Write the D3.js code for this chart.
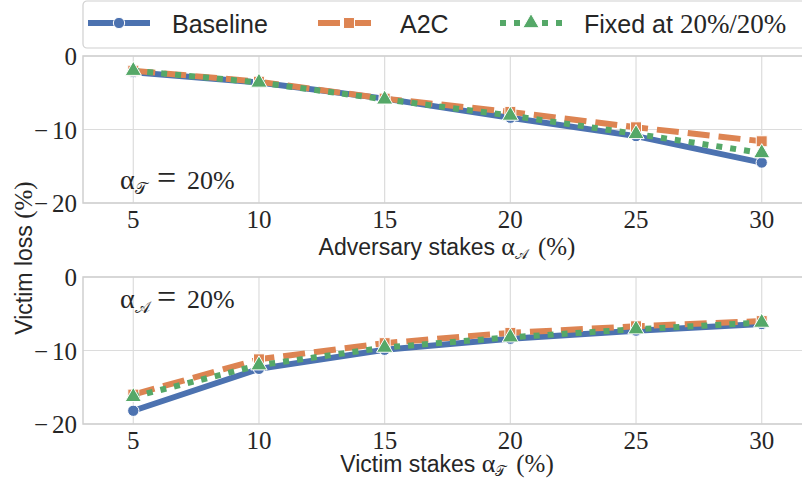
<!DOCTYPE html>
<html>
<head>
<meta charset="utf-8">
<script src="https://cdn.jsdelivr.net/npm/d3@7"></script>
<style>
  body { margin: 0; background: #fff; }
  svg { display: block; }
</style>
</head>
<body>
<script>
// data
var stakes = [5, 10, 15, 20, 25, 30];
var xTicks = [5, 10, 15, 20, 25, 30];
var yTicks = [0, -10, -20];

// top panel: adversary stakes varies, victim stakes fixed at 20%
var advBaseline = [-2.2, -3.6, -5.8, -8.4, -10.9, -14.5];
var advA2C      = [-2.0, -3.5, -5.8, -7.6, -9.7, -11.6];
var advFixed    = [-2.0, -3.6, -5.9, -8.1, -10.6, -13.2];

// bottom panel: victim stakes varies, adversary stakes fixed at 20%
var vicBaseline = [-18.2, -12.5, -9.9, -8.4, -7.3, -6.4];
var vicA2C      = [-16.0, -11.2, -9.0, -7.6, -6.7, -6.0];
var vicFixed    = [-16.3, -12.0, -9.6, -8.2, -7.1, -6.2];

var seriesNames = ['Baseline', 'A2C', 'Fixed at 20%/20%'];

var W = 802, H = 480;
var blue = '#4C72B0', orange = '#DD8452', green = '#55A868';
var serif = 'Liberation Serif';
var sans = 'Liberation Sans';
var ink = '#262626';
var scriptA = '\ud835\udc9c', scriptT = '\ud835\udcaf';

var svg = d3.select('body').append('svg')
  .attr('width', W).attr('height', H);

var xScale = d3.scaleLinear().domain([3, 32]).range([83, 812]);

var styles = [
  {color: blue, dash: null, marker: 'circle'},
  {color: orange, dash: '22,9', marker: 'square'},
  {color: green, dash: '6,8', marker: 'triangle'}
];

function drawMarker(g, type, x, y, color) {
  var sym;
  if (type == 'circle') sym = d3.symbol().type(d3.symbolCircle).size(100);
  else if (type == 'square') sym = d3.symbol().type(d3.symbolSquare).size(120);
  else sym = d3.symbol().type(d3.symbolTriangle).size(115);
  g.append('path')
    .attr('d', sym())
    .attr('transform', 'translate(' + x + ',' + y + ')')
    .attr('fill', color)
    .attr('stroke', '#fff')
    .attr('stroke-width', 1);
}

function drawPanel(top, bottom, data, xlabel, sub, noteSub, noteY, labelY) {
  var yScale = d3.scaleLinear().domain([-20, 0]).range([bottom, top]);
  var g = svg.append('g');

  // grid
  g.selectAll('.vgrid').data(xTicks).enter().append('line')
    .attr('x1', function(d) { return xScale(d); })
    .attr('x2', function(d) { return xScale(d); })
    .attr('y1', top).attr('y2', bottom)
    .attr('stroke', '#dcdcdc').attr('stroke-width', 1.2);
  g.selectAll('.hgrid').data(yTicks).enter().append('line')
    .attr('x1', 83).attr('x2', 812)
    .attr('y1', function(d) { return yScale(d); })
    .attr('y2', function(d) { return yScale(d); })
    .attr('stroke', '#dcdcdc').attr('stroke-width', 1.2);
  g.append('rect')
    .attr('x', 83).attr('y', top)
    .attr('width', 729).attr('height', bottom - top)
    .attr('fill', 'none').attr('stroke', '#cfcfcf').attr('stroke-width', 1.5);

  // tick labels
  g.selectAll('.xt').data(xTicks).enter().append('text')
    .attr('x', function(d) { return xScale(d); })
    .attr('y', bottom + 25)
    .attr('text-anchor', 'middle')
    .style('font-family', serif).style('font-size', '25px').attr('fill', ink)
    .text(function(d) { return d; });
  var yt = g.selectAll('.yt').data(yTicks).enter().append('text')
    .attr('x', 77)
    .attr('y', function(d) { return yScale(d) + 9; })
    .attr('text-anchor', 'end')
    .style('font-family', serif).style('font-size', '25px').attr('fill', ink);
  yt.filter(function(d) { return d < 0; }).append('tspan').text('\u2212');
  yt.append('tspan')
    .attr('dx', function(d) { return d < 0 ? 4 : 0; })
    .text(function(d) { return Math.abs(d); });

  // x label
  var xl = g.append('text')
    .attr('x', 447).attr('y', labelY)
    .attr('text-anchor', 'middle')
    .style('font-family', sans).style('font-size', '23px').attr('fill', ink);
  xl.append('tspan').text(xlabel);
  xl.append('tspan').style('font-family', serif).style('font-size', '26px').text('\u03b1');
  xl.append('tspan').style('font-family', serif)
    .style('font-size', '14px').attr('dy', 4).text(sub);
  xl.append('tspan').style('font-family', serif).style('font-size', '25px')
    .attr('dy', -4).attr('dx', 10).text('(%)');

  // annotation
  var an = g.append('text')
    .attr('x', 120).attr('y', noteY)
    .style('font-family', serif).style('font-size', '26px').attr('fill', ink);
  an.append('tspan').style('font-size', '28px').text('\u03b1');
  an.append('tspan').style('font-size', '16px').attr('dy', 5).text(noteSub);
  an.append('tspan').attr('x', 157).attr('dy', -5).style('font-size', '34px').text('=');
  an.append('tspan').attr('x', 187).text('20%');

  // lines + markers
  var line = d3.line()
    .x(function(d, i) { return xScale(stakes[i]); })
    .y(function(d) { return yScale(d); });

  data.forEach(function(vals, k) {
    var st = styles[k];
    var sg = g.append('g');
    sg.append('path')
      .attr('d', line(vals))
      .attr('fill', 'none')
      .attr('stroke', st.color)
      .attr('stroke-width', 6)
      .attr('stroke-dasharray', st.dash);
    vals.forEach(function(v, i) {
      drawMarker(sg, st.marker, xScale(stakes[i]), yScale(v), st.color);
    });
  });
}

drawPanel(56, 203, [advBaseline, advA2C, advFixed],
  'Adversary stakes ', scriptA, scriptT, 189, 255);
drawPanel(277, 424, [vicBaseline, vicA2C, vicFixed],
  'Victim stakes ', scriptT, scriptA, 308, 472);

// y label shared
var yl = svg.append('text')
  .attr('transform', 'translate(32,258)rotate(-90)')
  .attr('text-anchor', 'middle')
  .style('font-family', sans).style('font-size', '23px').attr('fill', ink);
yl.append('tspan').text('Victim loss ');
yl.append('tspan').style('font-family', serif).style('font-size', '25px').text('(%)');

// legend
var leg = svg.append('g');
leg.append('rect')
  .attr('x', 83).attr('y', 1).attr('width', 740).attr('height', 47)
  .attr('rx', 4)
  .attr('fill', '#fff').attr('fill-opacity', 0.8)
  .attr('stroke', '#d0d0d0').attr('stroke-width', 1.2);

var legX = [[88, 150, 172], [318, 380, 400], [500, 562, 584]];
seriesNames.forEach(function(name, k) {
  var st = styles[k];
  var p = legX[k];
  leg.append('line')
    .attr('x1', p[0]).attr('x2', p[1]).attr('y1', 23).attr('y2', 23)
    .attr('stroke', st.color).attr('stroke-width', 6)
    .attr('stroke-dasharray', st.dash);
  drawMarker(leg, st.marker, (p[0] + p[1]) / 2, 23, st.color);
  var t = leg.append('text')
    .attr('x', p[2]).attr('y', 33)
    .style('font-family', sans).style('font-size', '25px').attr('fill', ink);
  if (k < 2) {
    t.text(name);
  } else {
    t.append('tspan').text('Fixed at ');
    t.append('tspan').style('font-family', serif).style('font-size', '27px').text('20%/20%');
  }
});
</script>
</body>
</html>
